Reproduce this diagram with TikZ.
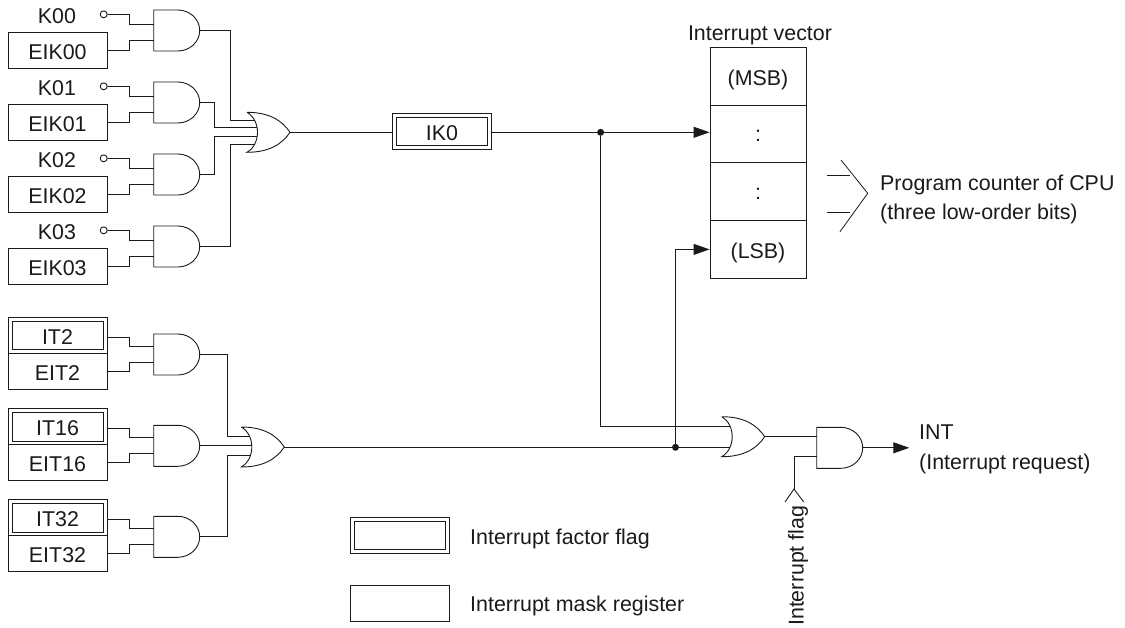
\documentclass[tikz,border=0pt]{standalone}
\usepackage{fontspec}
\setmainfont{Liberation Sans}
\usetikzlibrary{arrows.meta,calc}
\definecolor{ink}{HTML}{1A1A1A}
\tikzset{
  x=1pt,y=-1pt,
  every node/.style={inner sep=0pt},
  txt/.style={font=\fontsize{21.4}{24}\selectfont,text=ink,text height=18pt,text depth=0pt},
  wire/.style={draw=ink,line width=0.9pt,line join=miter},
  thinwire/.style={draw=ink,line width=0.8pt},
  regbox/.style={txt,draw=ink,line width=0.9pt,rectangle,minimum width=99pt,minimum height=36pt},
  flagouter/.style={draw=ink,line width=0.9pt,rectangle,minimum width=99pt,minimum height=36pt},
  flaginner/.style={txt,draw=ink,line width=0.8pt,rectangle,minimum width=91pt,minimum height=28.6pt},
  vecbox/.style={txt,draw=ink,line width=0.9pt,rectangle,minimum width=96pt,minimum height=57.75pt},
  lbl/.style={txt,anchor=west},
  tipped/.style={wire,-{Triangle[length=16pt,width=11pt]}},
  dotmark/.style={circle,fill=ink,minimum size=7pt},
  term/.style={circle,draw=ink,line width=0.9pt,fill=white,minimum size=7pt}
}
\newcommand{\andgateat}[5]{% name, x, top y, input a offset, input b offset
  \draw[wire] (#2+24,#3) -- (#2,#3) -- (#2,#3+41) -- (#2+24,#3+41)
    arc[start angle=-90,end angle=90,x radius=22,y radius=-20.5];
  \coordinate (#1-a) at (#2,#3+#4);
  \coordinate (#1-b) at (#2,#3+#5);
  \coordinate (#1-o) at (#2+46,#3+20.5);
}
\newcommand{\orgateat}[3]{% name, x, top y
  \draw[wire] (#2,#3) .. controls (#2+22,#3) and (#2+35,#3+8) .. (#2+43,#3+20)
    .. controls (#2+35,#3+32) and (#2+22,#3+40) .. (#2,#3+40)
    .. controls (#2+14,#3+32) and (#2+14,#3+8) .. (#2,#3);
  \coordinate (#1-o) at (#2+43,#3+20);
}
\newcommand{\flagbox}[4]{% name, centre x, centre y, text
  \node[flagouter] (#1) at (#2,#3) {};
  \node[flaginner] (#1in) at (#2,#3) {#4};
}
\begin{document}
\begin{tikzpicture}
\useasboundingbox (0,0) rectangle (1125,627);
% --- key inputs
\foreach \n/\t/\ky in {0/10/14.2,1/82/86.2,2/154/158.2,3/226/230.2}{
  \andgateat{k\n}{153.7}{\t}{14}{30.5}
  \node[txt] (kl\n) at (57,\ky) {K0\n};
  \node[term] (kt\n) at (103.7,\t+4.3) {};
  \node[regbox] (ek\n) at (57.5,\t+40) {EIK0\n};
  \draw[wire] (kt\n.east) -| (129,\t+14) -- (k\n-a);
  \draw[wire] (ek\n.east) -| (129,\t+30.5) -- (k\n-b);
}
\orgateat{or1}{247}{112.3}
\draw[wire] (k0-o) -- (230,30.5) |- (255,120);
\draw[wire] (k1-o) -- (214,102.5) |- (257,127.5);
\draw[wire] (k2-o) -- (214,174.5) |- (257,136.5);
\draw[wire] (k3-o) -- (230,246.5) |- (255,144.7);
% --- timer inputs
\foreach \n/\t in {2/334,16/425.3,32/516.3}{
  \andgateat{t\n}{153.7}{\t}{12}{28.3}
  \flagbox{it\n}{57.5}{\t+1.4}{IT\n}
  \node[regbox] (et\n) at (57.5,\t+37.4) {EIT\n};
  \draw[wire] (it\n.east) ++(0,1.6) -| (129,\t+12) -- (t\n-a);
  \draw[wire] (et\n.east) -| (129,\t+28.3) -- (t\n-b);
}
\orgateat{or2}{241.3}{427}
\draw[wire] (t2-o) -- (227.7,354.5) |- (249.8,436.7);
\draw[wire] (t16-o) -- (251.8,445.8);
\draw[wire] (t32-o) -- (227.7,536.8) |- (249.8,455.3);
% --- IK0 flag
\flagbox{ik}{441.9}{131.3}{IK0}
\draw[wire] (or1-o) -- (ik.west |- or1-o);
% --- vector
\node[txt] (ivt) at (760,31.8) {Interrupt vector};
\node[vecbox] (v0) at (758,76.1) {(MSB)};
\node[vecbox,text height=15pt] (v1) at (758,133.9) {:};
\node[vecbox,text height=15pt] (v2) at (758,191.6) {:};
\node[vecbox] (v3) at (758,249.4) {(LSB)};
\draw[tipped] (ik.east |- or1-o) -- (v1.west |- or1-o);
\node[dotmark] (d1) at (600.6,132.3) {};
% --- lower OR/AND
\orgateat{or3}{721.7}{416.7}
\coordinate (or3a) at (730,426);
\coordinate (or3b) at (730,447.3);
\draw[wire] (d1) |- (or3a);
\draw[wire] (or2-o |- or3b) -- (or3b);
\node[dotmark] (d2) at (675.5,447.3) {};
\draw[tipped] (d2) |- (v3.west);
\andgateat{ag}{816.7}{427.3}{9.4}{29.4}
\draw[wire] (or3-o) -- (ag-a);
\coordinate (flagtip) at (794,489);
\coordinate (fl) at (785,502);
\coordinate (fr) at (803.7,502);
\draw[wire] (flagtip) |- (ag-b);
\draw[wire] (fl) -- (flagtip) -- (fr);
\node[txt,rotate=90,anchor=west] (iflag) at (794.5,626) {Interrupt flag};
\coordinate (intend) at (909.3,447.8);
\draw[tipped] (ag-o) -- (intend);
\node[lbl] (int) at (919,430.2) {INT};
\node[lbl] (intr) at (919,460.8) {(Interrupt request)};
% --- program counter bus
\coordinate (c1) at (841,160);
\coordinate (c2) at (867.7,193.3);
\coordinate (c3) at (840,231.7);
\draw[thinwire] (c1) -- (c2) -- (c3);
\coordinate (b1) at (826.7,175);
\coordinate (b2) at (826.7,212.3);
\draw[thinwire] (b1) -- (850,175);
\draw[thinwire] (b2) -- (850,212.3);
\node[lbl] (pc1) at (880,181.8) {Program counter of CPU};
\node[lbl] (pc2) at (880,210.8) {(three low-order bits)};
% --- legend
\flagbox{lf}{400}{535.5}{}
\node[lbl] (lft) at (470,535.5) {Interrupt factor flag};
\node[regbox] (lm) at (399.5,603.5) {};
\node[lbl] (lmt) at (470,602.5) {Interrupt mask register};
\end{tikzpicture}
\end{document}
